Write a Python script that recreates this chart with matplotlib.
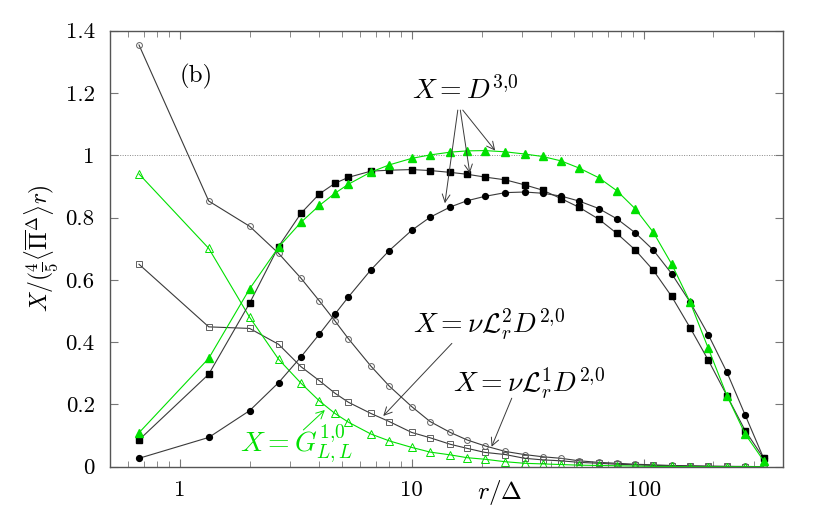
import numpy as np
import matplotlib
matplotlib.use("Agg")
import matplotlib.pyplot as plt

plt.rcParams['font.family'] = 'serif'
plt.rcParams['font.serif'] = ['cmr10']
plt.rcParams['mathtext.fontset'] = 'cm'
plt.rcParams['axes.formatter.use_mathtext'] = True

# r / Delta
r = [0.667, 1.333, 2.0, 2.667, 3.333, 4.0, 4.667, 5.333, 6.667, 8.0,
     10.0, 12.0, 14.67, 17.33, 20.67, 25.33, 30.67, 36.67, 44.0, 52.67,
     64.0, 76.67, 92.0, 110.0, 132.0, 158.7, 190.0, 228.7, 274.0, 329.3]

# D^{3,0}, three variants
d30_circ = [0.027, 0.094, 0.180, 0.270, 0.353, 0.426, 0.490, 0.545, 0.632, 0.694,
            0.759, 0.801, 0.834, 0.854, 0.868, 0.880, 0.882, 0.878, 0.869, 0.853,
            0.829, 0.796, 0.751, 0.696, 0.620, 0.528, 0.424, 0.303, 0.166, 0.027]
d30_sq = [0.086, 0.297, 0.525, 0.707, 0.814, 0.876, 0.910, 0.929, 0.949, 0.952,
          0.954, 0.951, 0.945, 0.939, 0.930, 0.921, 0.905, 0.888, 0.861, 0.833,
          0.795, 0.749, 0.696, 0.631, 0.547, 0.446, 0.342, 0.228, 0.116, 0.027]
d30_tri = [0.109, 0.348, 0.571, 0.705, 0.785, 0.839, 0.878, 0.907, 0.946, 0.969,
           0.990, 1.001, 1.010, 1.014, 1.015, 1.011, 1.004, 0.996, 0.982, 0.959,
           0.928, 0.886, 0.828, 0.753, 0.651, 0.528, 0.380, 0.228, 0.105, 0.019]

# nu L_r^1 D^{2,0}
l1 = [1.354, 0.853, 0.772, 0.685, 0.605, 0.532, 0.468, 0.411, 0.323, 0.259,
      0.193, 0.145, 0.110, 0.086, 0.067, 0.049, 0.039, 0.032, 0.027, 0.019,
      0.014, 0.011, 0.008, 0.006, 0.004, 0.003, 0.002, 0.001, 0.001, 0.0]
# nu L_r^2 D^{2,0}
l2 = [0.650, 0.449, 0.444, 0.393, 0.321, 0.276, 0.236, 0.207, 0.171, 0.145,
      0.110, 0.093, 0.072, 0.059, 0.046, 0.039, 0.027, 0.022, 0.019, 0.014,
      0.011, 0.008, 0.006, 0.004, 0.003, 0.002, 0.001, 0.001, 0.0, 0.0]
# G^{1,0}_{L,L}
g10 = [0.940, 0.701, 0.480, 0.345, 0.268, 0.211, 0.171, 0.143, 0.105, 0.083,
       0.062, 0.047, 0.038, 0.029, 0.024, 0.016, 0.011, 0.009, 0.007, 0.005,
       0.004, 0.003, 0.002, 0.001, 0.001, 0.0, 0.0, 0.0, 0.0, 0.0]

yticks = [0, 0.2, 0.4, 0.6, 0.8, 1.0, 1.2, 1.4]
ytick_labels = ["0", "0.2", "0.4", "0.6", "0.8", "1", "1.2", "1.4"]
xticks = [1, 10, 100]
xtick_labels = ["1", "10", "100"]

dark = '#3a3a3a'
hollow = '#606060'
green = '#00e000'

fig = plt.figure(figsize=(8.3, 5.18), dpi=100)
ax = fig.add_axes([0.1325, 0.099, 0.8112, 0.8418])

ax.axhline(1.0, color='#888888', lw=0.7, ls=(0, (1, 1.5)), zorder=1)

lw = 0.8
ax.plot(r, l1, color=dark, lw=lw, marker='o', ms=4.2, mfc='none', mec=hollow, mew=0.7)
ax.plot(r, l2, color=dark, lw=lw, marker='s', ms=4.0, mfc='none', mec=hollow, mew=0.7)
ax.plot(r, g10, color=green, lw=lw, marker='^', ms=5.2, mfc='none', mec=green, mew=0.7)
ax.plot(r, d30_circ, color=dark, lw=lw, marker='o', ms=4.2, mfc='black', mec='black')
ax.plot(r, d30_sq, color=dark, lw=lw, marker='s', ms=4.0, mfc='black', mec='black')
ax.plot(r, d30_tri, color=green, lw=lw, marker='^', ms=5.5, mfc=green, mec=green)

ax.set_xscale('log')
ax.set_xlim(0.5, 400)
ax.set_ylim(0, 1.4)
ax.set_yticks(yticks, ytick_labels)
ax.set_xticks(xticks, xtick_labels)
ax.xaxis.set_minor_formatter(matplotlib.ticker.NullFormatter())
ax.tick_params(which='both', direction='in', top=True, right=True,
               color='#777777', labelsize=16.5)
ax.tick_params(which='major', length=6, width=0.8)
ax.tick_params(which='minor', length=4, width=0.6)
ax.tick_params(axis='y', pad=11)
ax.tick_params(axis='x', pad=10)
for s in ax.spines.values():
    s.set_color('#555555')
    s.set_linewidth(1.0)

ax.set_ylabel(r'$X/(\frac{4}{5}\langle\overline{\Pi}^{\Delta}\rangle r)$', fontsize=17, labelpad=4)
ax.text(0.579, -0.06, r'$r/\Delta$', transform=ax.transAxes, fontsize=18,
        ha='center', va='center')

ax.text(1.18, 1.252, '(b)', fontsize=18, ha='center', va='center')

arrow = dict(arrowstyle='->', color=dark, lw=0.7, shrinkA=0, shrinkB=0, mutation_scale=14)
ax.text(10.0, 1.18, r'$X = D^{3{,}0}$', fontsize=20, ha='left', va='baseline')
ax.annotate('', xy=(13.9, 0.846), xytext=(15.8, 1.145), arrowprops=arrow)
ax.annotate('', xy=(17.8, 0.942), xytext=(16.2, 1.145), arrowprops=arrow)
ax.annotate('', xy=(22.9, 1.015), xytext=(16.6, 1.145), arrowprops=arrow)

ax.text(10.13, 0.43, r'$X = \nu\mathcal{L}_r^2 D^{2{,}0}$', fontsize=20, ha='left', va='baseline')
ax.annotate('', xy=(7.54, 0.163), xytext=(14.9, 0.396), arrowprops=arrow)

ax.text(15.08, 0.241, r'$X = \nu\mathcal{L}_r^1 D^{2{,}0}$', fontsize=20, ha='left', va='baseline')
ax.annotate('', xy=(22.1, 0.064), xytext=(27.0, 0.22), arrowprops=arrow)

ax.text(1.815, 0.048, r'$X = G_{L,L}^{1{,}0}$', fontsize=20, ha='left', va='baseline', color=green)
ax.annotate('', xy=(4.22, 0.182), xytext=(3.41, 0.118),
            arrowprops=dict(arrow, color=green))

fig.savefig('out.png', dpi=100)
